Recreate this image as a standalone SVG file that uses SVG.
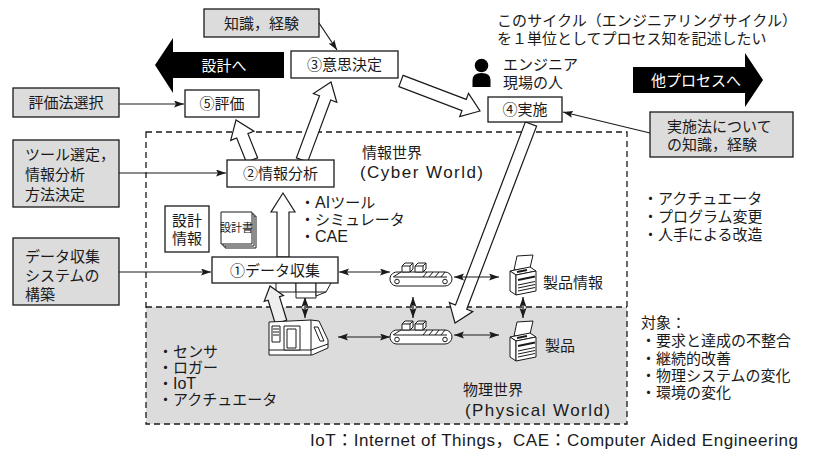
<svg xmlns="http://www.w3.org/2000/svg" width="816" height="450" viewBox="0 0 816 450">
  <style>
    text { font-family: "Noto Sans CJK JP", "Noto Sans", sans-serif; font-size: 15px; fill: #1a1a1a; }
    .lat { font-family: "Liberation Sans", "Noto Sans CJK JP", sans-serif; font-size: 16px; }
    .big { font-size: 17px; }
    .mid { text-anchor: middle; }
    .wt { fill: #ffffff; }
    .box { fill: #ffffff; stroke: #1a1a1a; stroke-width: 1.3; }
    .gbox { fill: #dcdcdc; stroke: #1a1a1a; stroke-width: 1.3; }
    .hollow { fill: #ffffff; stroke: #1a1a1a; stroke-width: 1.2; stroke-linejoin: miter; }
    .arr { fill: none; stroke: #1a1a1a; stroke-width: 1.2; marker-end: url(#ah); }
    .dbl { fill: none; stroke: #1a1a1a; stroke-width: 1.2; marker-start: url(#ah); marker-end: url(#ah); }
    .ic { fill: #ffffff; stroke: #1a1a1a; stroke-width: 1; stroke-linejoin: round; }
    .icl { fill: none; stroke: #1a1a1a; stroke-width: 1; }
    .dash { fill: none; stroke: #1a1a1a; stroke-width: 1.3; stroke-dasharray: 6 4; }
  </style>
  <defs>
    <marker id="ah" markerUnits="userSpaceOnUse" markerWidth="11" markerHeight="8" refX="10" refY="3.5" orient="auto-start-reverse">
      <path d="M0,0 L10,3.5 L0,7 L2,3.5 Z" fill="#1a1a1a"/>
    </marker>
    <!-- conveyor belt with two parcels, 64 x 24 -->
    <g id="conveyor">
      <path d="M9,10 H56 A7,7 0 0 1 56,24 H7 A7,7 0 0 1 9,10 Z" class="ic"/>
      <path d="M4,15 L12,10 M5,15 H58" class="icl"/>
      <path d="M38,10 L34,15 M44,10 L40,15 M50,10 L46,15 M56,10 L52,15" class="icl"/>
      <circle cx="8" cy="19.5" r="2.3" class="ic"/>
      <circle cx="56" cy="19.5" r="2.3" class="ic"/>
      <path d="M13,10 V4 L16,1 H24 V7 L21,10 Z M13,4 H21 L24,1 M21,4 V10" class="ic"/>
      <path d="M26,10 V4 L29,1 H37 V7 L34,10 Z M26,4 H34 L37,1 M34,4 V10" class="ic"/>
    </g>
    <!-- copier / product unit, 30 x 40 -->
    <g id="copier">
      <path d="M6,15 L9,1 L25,0 L22,13 Z" class="ic"/>
      <path d="M2,16 L22,12 L28,16 L8,20 Z" class="ic"/>
      <path d="M2,16 L8,20 L8,40 L2,36 Z" class="ic"/>
      <path d="M8,20 L28,16 L28,36 L8,40 Z" class="ic"/>
      <path d="M9,17 L19,15" stroke="#1a1a1a" stroke-width="2.2"/>
      <path d="M10,25 L27,21.5" stroke="#1a1a1a" stroke-width="2"/>
      <path d="M10,30 L27,26.5 M10,33 L27,29.5 M10,36 L27,32.5" class="icl"/>
    </g>
  </defs>

  <!-- information / physical world frames -->
  <g id="physical-world">
    <rect x="146" y="307" width="481" height="117" fill="#dcdcdc"/>
  </g>
  <g id="frames">
    <rect x="146" y="132" width="481" height="292" class="dash"/>
    <path d="M146,307 H627" class="dash"/>
  </g>

  <!-- top caption -->
  <g id="cycle-note">
    <text x="497" y="26" textLength="300" lengthAdjust="spacing">このサイクル（エンジニアリングサイクル）</text>
    <text x="497" y="44">を１単位としてプロセス知を記述したい</text>
  </g>

  <!-- big black flow arrows -->
  <g id="to-design">
    <path d="M284,52 H173 V38 L155,65 L173,93 V78 H284 Z" fill="#000000"/>
    <text x="224" y="71" class="mid wt">設計へ</text>
  </g>
  <g id="to-other-process">
    <path d="M633,67 H745 V53 L763,80 L745,107 V93 H633 Z" fill="#000000"/>
    <text x="696" y="86" class="mid wt">他プロセスへ</text>
  </g>

  <!-- hollow cycle arrows -->
  <g id="cycle-arrows">
    <polygon class="hollow" points="277,257 277,212 271,212 283,193 295,212 289,212 289,257"/>
    <polygon class="hollow" points="257.6,157.8 247.9,133.6 253.9,131.2 236,120 230.7,140.4 236.7,138 246.4,162.2"/>
    <polygon class="hollow" points="307.6,162.1 330.7,100 336.8,102.3 331,82 313.4,93.5 319.5,95.8 296.4,157.9"/>
    <polygon class="hollow" points="398.9,86.6 462,110.6 459.7,116.7 480,111 468.5,93.3 466.2,99.4 403.1,75.4"/>
    <polygon class="hollow" points="525.4,121.9 455.5,305 449.4,302.6 455,323 472.8,311.6 466.7,309.2 536.6,126.1"/>
  </g>

  <!-- thin connectors -->
  <g id="connectors">
    <path d="M319,23 L337,50" class="arr"/>
    <path d="M119,104 H184" class="arr"/>
    <path d="M119,173 H226" class="arr"/>
    <path d="M119,272 H211" class="arr"/>
    <path d="M650,133 L563,112" class="arr"/>
    <path d="M339,272 H390" class="dbl"/>
    <path d="M454,277 H499" class="dbl"/>
    <path d="M338,337 H390" class="dbl"/>
    <path d="M454,335 H499" class="dbl"/>
    <path d="M305,297 V318" class="dbl"/>
    <path d="M413,297 V318" class="dbl"/>
    <path d="M523,297 V318" class="dbl"/>
  </g>

  <!-- parcels stacked at the collection point -->
  <g id="parcels">
    <path d="M276,280 V292 H296 V280" class="ic"/>
    <path d="M296,280 V298 H316 V280" class="ic"/>
    <path d="M316,280 V296 L326,292 L331,283 V280" class="ic"/>
    <path d="M296,292 H316 M316,292 H326" class="icl"/>
  </g>

  <!-- machine tool -->
  <g id="machine">
    <polygon class="hollow" points="281,322 275.3,323.8 268.1,300.2 264.2,301.3 270,286 283.4,295.5 279.5,296.6 286.7,320.2" style="fill:#eeeeee"/>
    <g transform="translate(267,318)">
      <path d="M2,4 L44,2 L52,3 L61,22 L61,30 L45,37 L2,37 Z" class="ic"/>
      <path d="M44,2 V37 M2,32 H44 M44,32 L61,26" class="icl"/>
      <rect x="5" y="8" width="8" height="16" class="ic"/>
      <path d="M6,11 H12 M6,14 H12 M6,17 H12" class="icl"/>
      <rect x="17" y="8" width="16" height="24" class="ic"/>
      <rect x="20" y="11" width="9" height="19" class="ic"/>
      <path d="M47,9 L51,9 L57,23 L53,23 Z" class="ic"/>
    </g>
  </g>

  <g id="conveyor-info"><use href="#conveyor" x="389" y="262"/></g>
  <g id="conveyor-phys"><use href="#conveyor" x="389" y="320"/></g>

  <g id="product-info">
    <use href="#copier" x="508" y="255"/>
    <text x="543" y="288">製品情報</text>
  </g>
  <g id="product">
    <use href="#copier" x="508" y="321"/>
    <text x="545" y="351">製品</text>
  </g>

  <!-- nodes -->
  <g id="knowledge">
    <rect x="204" y="9" width="115" height="28" class="gbox"/>
    <text x="261.5" y="29" class="mid">知識，経験</text>
  </g>
  <g id="decision">
    <rect x="291" y="51" width="107" height="27" class="box"/>
    <text x="344.5" y="70" class="mid">③意思決定</text>
  </g>
  <g id="method-select">
    <rect x="13" y="88" width="106" height="29" class="gbox"/>
    <text x="66" y="108" class="mid">評価法選択</text>
  </g>
  <g id="evaluation">
    <rect x="185" y="90" width="74" height="27" class="box"/>
    <text x="222" y="109" class="mid">⑤評価</text>
  </g>
  <g id="engineer">
    <circle cx="481.5" cy="65.5" r="6.8" fill="#000000"/>
    <path d="M472.5,87 V80 Q472.5,73 481.5,73 Q490.5,73 490.5,80 V87 Z" fill="#000000"/>
    <text x="503" y="70">エンジニア</text>
    <text x="503" y="88">現場の人</text>
  </g>
  <g id="execution">
    <rect x="488" y="97" width="74" height="25" class="box"/>
    <text x="525" y="115" class="mid">④実施</text>
  </g>
  <g id="execution-knowledge">
    <rect x="650" y="112" width="143" height="45" class="gbox"/>
    <text x="667" y="132">実施法について</text>
    <text x="667" y="150">の知識，経験</text>
  </g>
  <g id="tool-select">
    <rect x="13" y="140" width="106" height="67" class="gbox"/>
    <text x="25" y="160">ツール選定，</text>
    <text x="25" y="180">情報分析</text>
    <text x="25" y="200">方法決定</text>
  </g>
  <g id="analysis">
    <rect x="227" y="160" width="107" height="27" class="box"/>
    <text x="280.5" y="179" class="mid">②情報分析</text>
  </g>
  <g id="cyber-label">
    <text x="362" y="158">情報世界</text>
    <text x="360" y="178" class="lat big" textLength="123" lengthAdjust="spacing">(Cyber World)</text>
  </g>
  <g id="analysis-tools">
    <text x="300" y="208">・<tspan class="lat">AI</tspan>ツール</text>
    <text x="300" y="225">・シミュレータ</text>
    <text x="300" y="242">・<tspan class="lat">CAE</tspan></text>
  </g>
  <g id="design-info">
    <rect x="165" y="206" width="44" height="46" class="box"/>
    <text x="187" y="226" class="mid">設計</text>
    <text x="187" y="244" class="mid">情報</text>
  </g>
  <g id="design-doc">
    <rect x="225" y="216" width="31" height="32" class="ic"/>
    <rect x="223" y="214" width="31" height="32" class="ic"/>
    <rect x="221" y="212" width="31" height="32" class="ic"/>
    <text x="236.5" y="232" class="mid" style="font-size:11px">設計書</text>
  </g>
  <g id="collection-build">
    <rect x="13" y="238" width="106" height="67" class="gbox"/>
    <text x="25" y="262">データ収集</text>
    <text x="25" y="281">システムの</text>
    <text x="25" y="300">構築</text>
  </g>
  <g id="collection">
    <rect x="212" y="257" width="126" height="26" class="box"/>
    <text x="275" y="276" class="mid">①データ収集</text>
  </g>
  <g id="actions">
    <text x="643" y="204">・アクチュエータ</text>
    <text x="643" y="222">・プログラム変更</text>
    <text x="643" y="240">・人手による改造</text>
  </g>
  <g id="devices">
    <text x="158" y="357">・センサ</text>
    <text x="158" y="373">・ロガー</text>
    <text x="158" y="389">・<tspan class="lat">IoT</tspan></text>
    <text x="158" y="405">・アクチュエータ</text>
  </g>
  <g id="physical-label">
    <text x="463" y="395">物理世界</text>
    <text x="465" y="416" class="lat big" textLength="145" lengthAdjust="spacing">(Physical World)</text>
  </g>
  <g id="targets">
    <text x="641" y="328">対象：</text>
    <text x="641" y="346">・要求と達成の不整合</text>
    <text x="641" y="364">・継続的改善</text>
    <text x="641" y="381">・物理システムの変化</text>
    <text x="641" y="398">・環境の変化</text>
  </g>
  <g id="footnote">
    <text x="310" y="446" class="lat big" textLength="488" lengthAdjust="spacing">IoT：Internet of Things，CAE：Computer Aided Engineering</text>
  </g>
</svg>
